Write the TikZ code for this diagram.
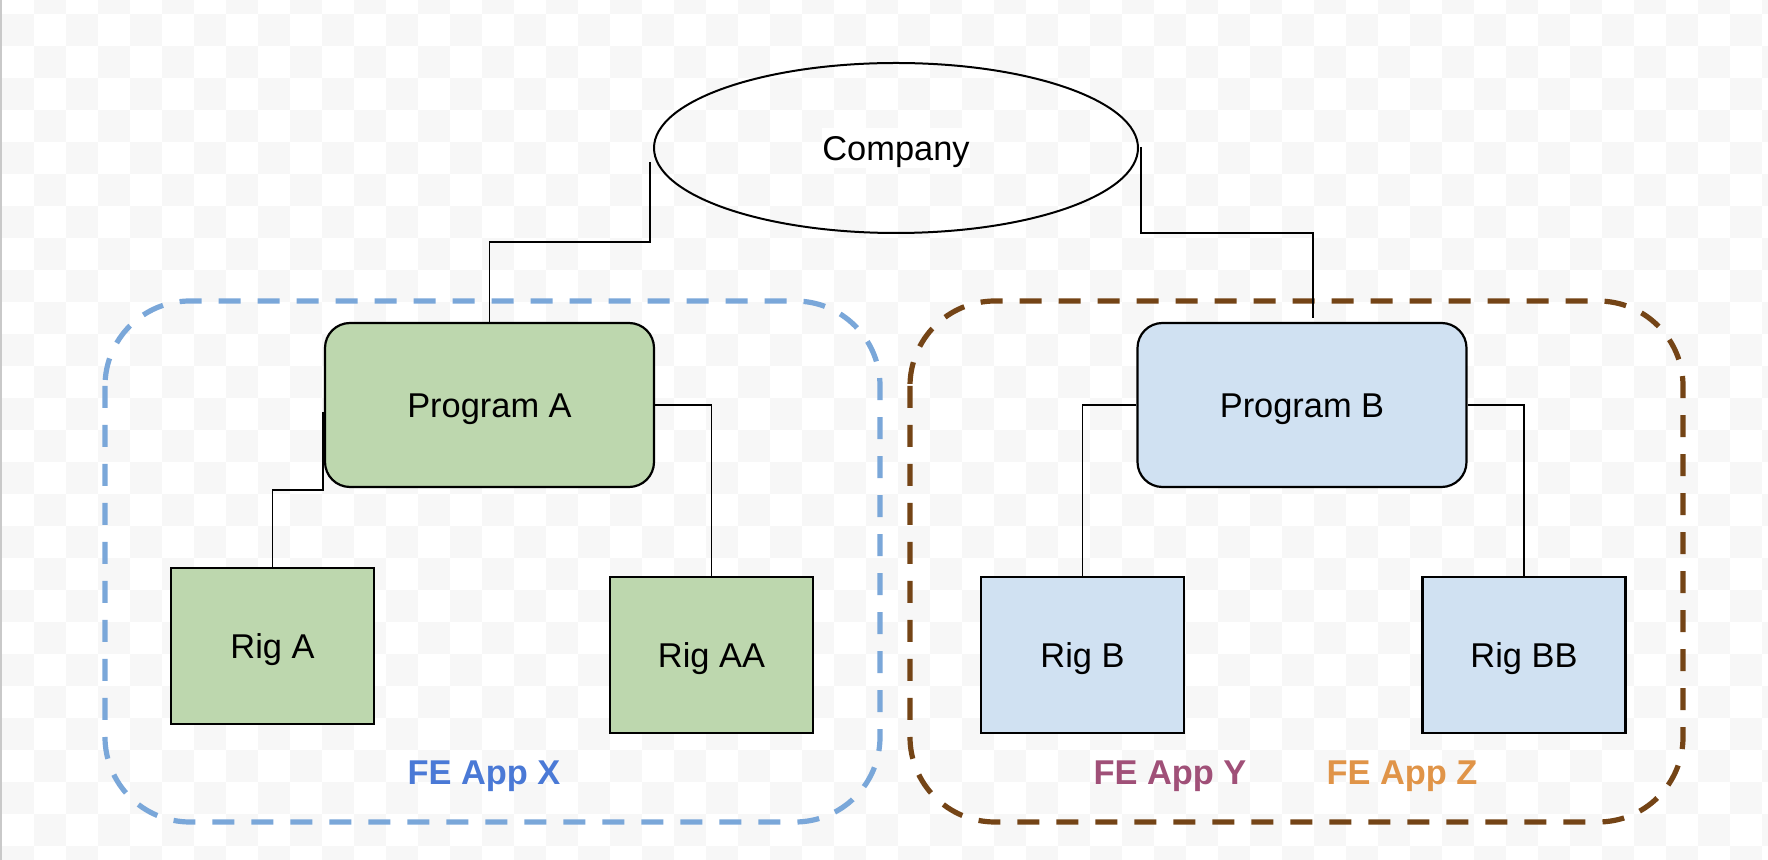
\documentclass[tikz,border=0pt]{standalone}
\usepackage{fontspec}
\setmainfont{Liberation Sans}
\usetikzlibrary{shapes.geometric,calc}
\definecolor{chk}{HTML}{F7F7F7}
\definecolor{edgegray}{HTML}{C9C9C9}
\definecolor{greenfill}{RGB}{189,215,174}
\definecolor{bluefill}{RGB}{208,225,242}
\definecolor{dashblue}{RGB}{122,167,217}
\definecolor{dashbrown}{RGB}{116,68,22}
\definecolor{fex}{RGB}{74,121,214}
\definecolor{fey}{RGB}{160,80,120}
\definecolor{fez}{RGB}{224,148,72}
\tikzset{
  txt/.style={font=\fontsize{17.2pt}{20pt}\selectfont, text height=12.3pt, text depth=0pt},
  box/.style={txt, draw=black, line width=1.1pt, inner sep=0pt},
  prog/.style={box, rounded corners=12.5pt, minimum width=164.5pt, minimum height=82pt},
  rig/.style={box, minimum width=101.5pt, minimum height=78pt},
  group/.style={line width=2.6pt, dash pattern=on 11pt off 8.5pt, rounded corners=42.5pt},
  conn/.style={draw=black, line width=0.75pt},
  grouplabel/.style={txt, font=\fontsize{17.2pt}{20pt}\selectfont\bfseries, inner sep=0pt}
}
\begin{document}
\begin{tikzpicture}[x=0.5pt,y=-0.5pt]
\useasboundingbox (0,0) rectangle (1768,860);
\fill[white] (0,0) rectangle (1768,860);
\begin{scope}
\clip (0,0) rectangle (1768,860);
\foreach \i in {0,...,55}{
  \foreach \j in {0,...,27}{
    \pgfmathtruncatemacro\p{mod(\i+\j,2)}
    \ifnum\p=1 \fill[chk] ({2+32*\i},{-18+32*\j}) rectangle ++(32,32); \fi
  }
}
\end{scope}
\fill[edgegray] (0,0) rectangle (2,860);

% group outlines
\draw[group, draw=dashblue] (105,301) rectangle (880,822);
\draw[group, draw=dashbrown] (910,301) rectangle (1683,822);

% nodes
\node[draw=black, line width=1pt, ellipse, inner sep=0pt, minimum width=242pt, minimum height=85pt] (company) at (896,148) {};
\node[font=\fontsize{17.2pt}{20pt}\selectfont, fill=white, inner sep=0pt, text height=16.5pt, text depth=3.5pt] (companytext) at (company.center) {Company};
\node[prog, fill=greenfill] (progA) at (489.5,405) {Program A};
\node[prog, fill=bluefill] (progB) at (1302,405) {Program B};
\node[rig, fill=greenfill] (rigA) at (272.5,646) {Rig A};
\node[rig, fill=greenfill] (rigAA) at (711.5,655) {Rig AA};
\node[rig, fill=bluefill] (rigB) at (1082.5,655) {Rig B};
\node[rig, fill=bluefill] (rigBB) at (1524,655) {Rig BB};

\node[grouplabel, text=fex] (labx) at (484,771.7) {FE App X};
\node[grouplabel, text=fey] (laby) at (1170,771.7) {FE App Y};
\node[grouplabel, text=fez] (labz) at (1402,771.7) {FE App Z};

% connectors
\draw[conn] ($(company.west)+(-3,14)$) -- ++(0,80) -| (progA.north);
\draw[conn] ($(company.east)+(2,-1)$) -- ++(0,86) -| ($(progB.north)+(11,-4)$);
\draw[conn] ($(progA.west)+(-1,7)$) -- ++(0,78) -| (rigA.north);
\draw[conn] (progA.east) -| (rigAA.north);
\draw[conn] (progB.west) -| (rigB.north);
\draw[conn] (progB.east) -| (rigBB.north);
\end{tikzpicture}
\end{document}
